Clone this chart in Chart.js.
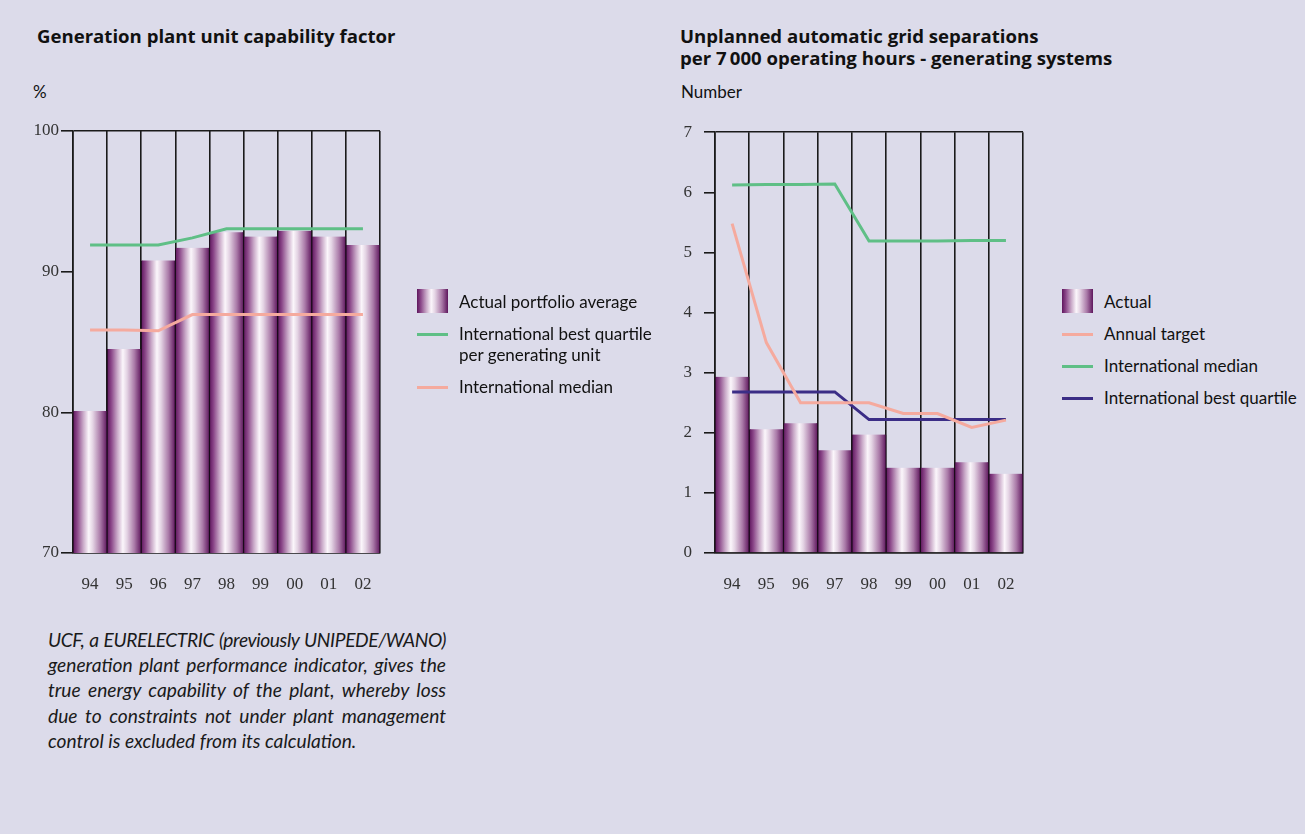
<!DOCTYPE html>
<html>
<head>
<meta charset="utf-8">
<script src="https://cdn.jsdelivr.net/npm/chart.js@4"></script>
<style>
  body { margin: 0; width: 1305px; height: 834px; background: #dcdbea; position: relative; overflow: hidden;
         font-family: Lato, 'Open Sans', sans-serif; color: #111; }
  .title { position: absolute; font-family: 'Open Sans', sans-serif; font-weight: bold; font-size: 18.6px; line-height: 22px; }
  .unit { position: absolute; font-size: 17px; }
  canvas { position: absolute; }
  .legend { position: absolute; font-size: 17px; line-height: 21px; }
  .legend .item { position: relative; padding-left: 42px; margin-bottom: 11px; }
  .legend .swatch { position: absolute; left: 0; top: 10px; width: 31px; height: 3px; }
  .legend .box { position: absolute; left: 0; top: -2px; width: 31px; height: 24px;
                 background: linear-gradient(90deg, #5e165d 0%, #8a4688 12%, #c9a9c8 30%, #fbf6fb 46%, #e4d4e4 58%, #aa7aa8 80%, #5e165d 100%); }
  .note { position: absolute; left: 48px; top: 627px; width: 398px; font-style: italic; font-size: 19.2px;
          line-height: 25.2px; color: #1a1a1a; }
  .note div { white-space: nowrap; text-align: justify; text-align-last: justify; }
  .note div.tight { letter-spacing: -0.4px; word-spacing: -1px; }
  .note div:last-child { text-align-last: left; }
</style>
</head>
<body>
<div class="title" style="left:37px; top:25px;">Generation plant unit capability factor</div>
<div class="unit" style="left:33px; top:81px;">%</div>
<div class="title" style="left:680px; top:25px;">Unplanned automatic grid separations<br>per 7&#8201;000 operating hours - generating systems</div>
<div class="unit" style="left:681px; top:81px;">Number</div>

<canvas id="ucf" width="393" height="483" style="left:0; top:115px;"></canvas>
<canvas id="grid" width="394" height="488" style="left:642px; top:110px;"></canvas>

<div class="legend" id="ucfLegend" style="left:417px; top:291px;"></div>
<div class="legend" id="gridLegend" style="left:1062px; top:291px;"></div>

<div class="note">
  <div class="tight">UCF, a EURELECTRIC (previously UNIPEDE/WANO)</div>
  <div>generation plant performance indicator, gives the</div>
  <div>true energy capability of the plant, whereby loss</div>
  <div>due to constraints not under plant management</div>
  <div>control is excluded from its calculation.</div>
</div>

<script>
const years = ['94', '95', '96', '97', '98', '99', '00', '01', '02'];

// unit capability factor, %
const ucfActual = [80.1, 84.5, 90.8, 91.7, 92.8, 92.5, 92.9, 92.5, 91.9];
const ucfBestQuartile = [91.9, 91.9, 91.9, 92.4, 93.05, 93.05, 93.05, 93.05, 93.05];
const ucfMedian = [85.85, 85.85, 85.8, 86.95, 86.95, 86.95, 86.95, 86.95, 86.95];
const ucfTicks = [70, 80, 90, 100];

// grid separations per 7000 operating hours
const sepActual = [2.93, 2.06, 2.16, 1.71, 1.97, 1.42, 1.42, 1.51, 1.32];
const sepTarget = [5.48, 3.5, 2.5, 2.5, 2.5, 2.32, 2.32, 2.09, 2.21];
const sepMedian = [6.12, 6.13, 6.13, 6.14, 5.19, 5.19, 5.19, 5.2, 5.2];
const sepBestQuartile = [2.68, 2.68, 2.68, 2.68, 2.22, 2.22, 2.22, 2.22, 2.22];
const sepTicks = [0, 1, 2, 3, 4, 5, 6, 7];

const GREEN = '#5fbf86';
const PINK = '#f5aa9e';
const NAVY = '#3b2d86';
const INK = '#1a1a1a';

// horizontal "cylinder" shading for each bar
function barFill(ctx) {
  const chart = ctx.chart;
  const xs = chart.scales.x;
  if (!xs || ctx.dataIndex === undefined) return '#9b5a99';
  const w = xs.width / years.length;
  const cx = xs.getPixelForValue(ctx.dataIndex);
  if (!isFinite(cx) || !isFinite(w) || w <= 0) return '#9b5a99';
  const g = chart.ctx.createLinearGradient(cx - w / 2, 0, cx + w / 2, 0);
  g.addColorStop(0, '#5e165d');
  g.addColorStop(0.12, '#8a4688');
  g.addColorStop(0.3, '#c9a9c8');
  g.addColorStop(0.46, '#fbf6fb');
  g.addColorStop(0.58, '#e4d4e4');
  g.addColorStop(0.8, '#aa7aa8');
  g.addColorStop(1, '#5e165d');
  return g;
}

function lineSet(label, data, color) {
  return {
    type: 'line', label, data, borderColor: color, backgroundColor: color,
    borderWidth: 3, pointRadius: 0, tension: 0, order: 1
  };
}

function makeChart(id, barLabel, bars, lines, ticks, tickLen, tickPad, padTop) {
  const min = ticks[0], max = ticks[ticks.length - 1];
  return new Chart(document.getElementById(id), {
    type: 'bar',
    data: {
      labels: years,
      datasets: [
        {
          label: barLabel, data: bars, backgroundColor: barFill,
          borderColor: '#1c0a1c', borderWidth: { left: 1, right: 1, top: 0, bottom: 0 },
          barPercentage: 1, categoryPercentage: 1, order: 2
        },
        ...lines
      ]
    },
    options: {
      responsive: false,
      animation: false,
      layout: { padding: { top: padTop, right: 10, left: 0, bottom: 0 } },
      plugins: { legend: { display: false }, tooltip: { enabled: false } },
      scales: {
        x: {
          grid: { color: INK, lineWidth: 1.6, drawTicks: false, offset: true },
          border: { display: true, color: INK, width: 1.6 },
          ticks: { color: '#333', padding: 21, font: { family: 'Liberation Serif', size: 17 } },
          afterFit: (s) => { s.height = 45; }
        },
        y: {
          min, max,
          afterBuildTicks: (s) => { s.ticks = ticks.map((v) => ({ value: v })); },
          grid: {
            color: (c) => (c.tick && (c.tick.value === min || c.tick.value === max)) ? INK : 'rgba(0,0,0,0)',
            tickColor: INK, tickLength: tickLen, lineWidth: 1.6
          },
          border: { display: true, color: INK, width: 1.6 },
          ticks: { color: '#333', padding: tickPad, font: { family: 'Liberation Serif', size: 17 } },
          afterFit: (s) => { s.width = 73; }
        }
      }
    }
  });
}

const ucfChart = makeChart('ucf', 'Actual portfolio average', ucfActual, [
  lineSet('International best quartile\nper generating unit', ucfBestQuartile, GREEN),
  lineSet('International median', ucfMedian, PINK)
], ucfTicks, 12, 2, 16);

const sepChart = makeChart('grid', 'Actual', sepActual, [
  lineSet('Annual target', sepTarget, PINK),
  lineSet('International median', sepMedian, GREEN),
  lineSet('International best quartile', sepBestQuartile, NAVY)
], sepTicks, 11, 12, 11);

// legends built from the datasets
function buildLegend(chart, elId) {
  const el = document.getElementById(elId);
  chart.data.datasets.forEach((ds) => {
    const item = document.createElement('div');
    item.className = 'item';
    const mark = document.createElement('span');
    if (ds.type === 'line') {
      mark.className = 'swatch';
      mark.style.background = ds.borderColor;
    } else {
      mark.className = 'box';
    }
    item.appendChild(mark);
    ds.label.split('\n').forEach((t, i) => {
      if (i) item.appendChild(document.createElement('br'));
      item.appendChild(document.createTextNode(t));
    });
    el.appendChild(item);
  });
}
buildLegend(ucfChart, 'ucfLegend');
buildLegend(sepChart, 'gridLegend');
</script>
</body>
</html>
